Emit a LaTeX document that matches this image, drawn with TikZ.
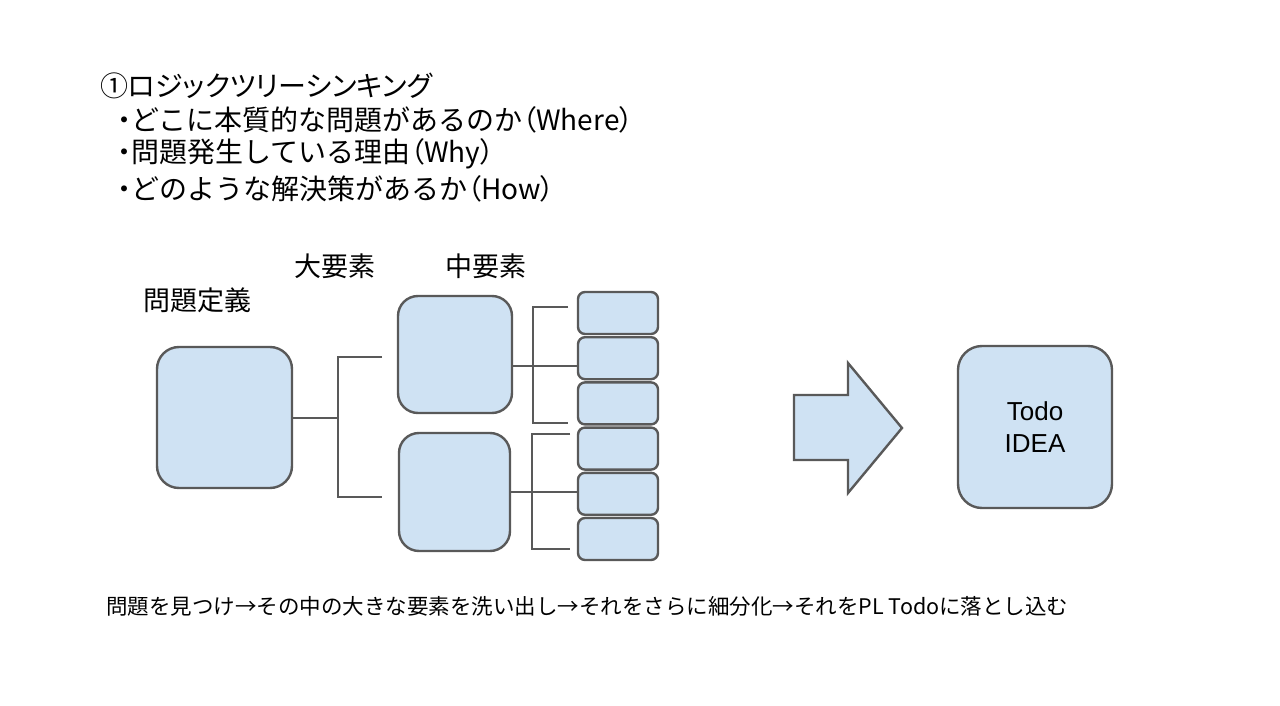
\documentclass[tikz,border=0pt]{standalone}
\usepackage{fontspec}
\setmainfont{Liberation Sans}
\newfontfamily\jp{Noto Sans CJK JP}
\newfontfamily\jpp[RawFeature=+palt]{Noto Sans CJK JP}
\newcommand{\pp}[1]{{\jpp #1}}
\definecolor{boxfill}{HTML}{CFE2F3}
\definecolor{boxline}{HTML}{595959}
\begin{document}
\begin{tikzpicture}[x=1pt,y=-1pt,
  box/.style={draw=boxline,fill=boxfill,line width=2.4pt,inner sep=0pt},
  conn/.style={draw=boxline,line width=2.2pt},
  txt/.style={inner sep=0pt,anchor=west,text=black},
  toptxt/.style={txt,font=\jp\fontsize{28pt}{32pt}\selectfont}]
\useasboundingbox (0,0) rectangle (1280,706);
% top text
\node[txt,font=\jpp\fontsize{28pt}{32pt}\selectfont] (t1) at (100,86) {①ロジックツリーシンキング};
\node[toptxt] (t2) at (117,120) {\pp{・}どこに本質的な問題があるのか\pp{（}Where\pp{）}};
\node[toptxt] (t3) at (117,154) {\pp{・}問題発生している理由\pp{（}Why\pp{）}};
\node[toptxt] (t4) at (117,189) {\pp{・}どのような解決策があるか\pp{（}How\pp{）}};
% labels
\node[txt,font=\jp\fontsize{27pt}{30pt}\selectfont] (l1) at (143,300) {問題定義};
\node[txt,font=\jp\fontsize{27pt}{30pt}\selectfont] (l2) at (294,266) {大要素};
\node[txt,font=\jp\fontsize{27pt}{30pt}\selectfont] (l3) at (445,266) {中要素};
% boxes
\node[box,rounded corners=22pt,minimum width=135pt,minimum height=141pt] (prob) at (224.5,417.5) {};
\node[box,rounded corners=20pt,minimum width=114pt,minimum height=117pt] (big1) at (455,354.5) {};
\node[box,rounded corners=20pt,minimum width=111pt,minimum height=118pt] (big2) at (454.5,492) {};
\foreach \i in {1,...,6}{
  \node[box,rounded corners=7pt,minimum width=80pt,minimum height=42pt] (s\i) at (618,{313+45.2*(\i-1)}) {};
}
\node[box,rounded corners=24pt,minimum width=154pt,minimum height=162pt,align=center,font=\fontsize{26pt}{32pt}\selectfont] (todo) at (1035,427) {Todo\\IDEA};
% block arrow
\draw[box] (794,395) -- (848,395) -- (848,363) -- (902,428) -- (848,493) -- (848,460) -- (794,460) -- cycle;
% connectors level 1
\coordinate (j0) at (338,418);
\coordinate (j0t) at (338,357);
\coordinate (j0b) at (338,497);
\coordinate (e0t) at (382,357);
\coordinate (e0b) at (382,497);
\draw[conn] (prob.east |- j0) -- (j0);
\draw[conn] (e0t) -- (j0t) -- (j0b) -- (e0b);
% connectors level 2 (upper)
\coordinate (m1) at (0,366);
\coordinate (j1t) at (533,307);
\coordinate (j1b) at (533,423);
\coordinate (e1t) at (568,307);
\coordinate (e1b) at (568,423);
\draw[conn] (big1.east |- m1) -- (s2.west |- m1);
\draw[conn] (e1t) -- (j1t) -- (j1b) -- (e1b);
% connectors level 2 (lower)
\coordinate (m2) at (0,492);
\coordinate (j2t) at (532,434);
\coordinate (j2b) at (532,549);
\coordinate (e2t) at (570,434);
\coordinate (e2b) at (570,549);
\draw[conn] (big2.east |- m2) -- (s5.west |- m2);
\draw[conn] (e2t) -- (j2t) -- (j2b) -- (e2b);
% bottom text
\node[txt,font=\jp\fontsize{21.5pt}{25pt}\selectfont] (bt) at (106,606) {問題を見つけ→その中の大きな要素を洗い出し→それをさらに細分化→それをPL Todoに落とし込む};
\end{tikzpicture}
\end{document}
